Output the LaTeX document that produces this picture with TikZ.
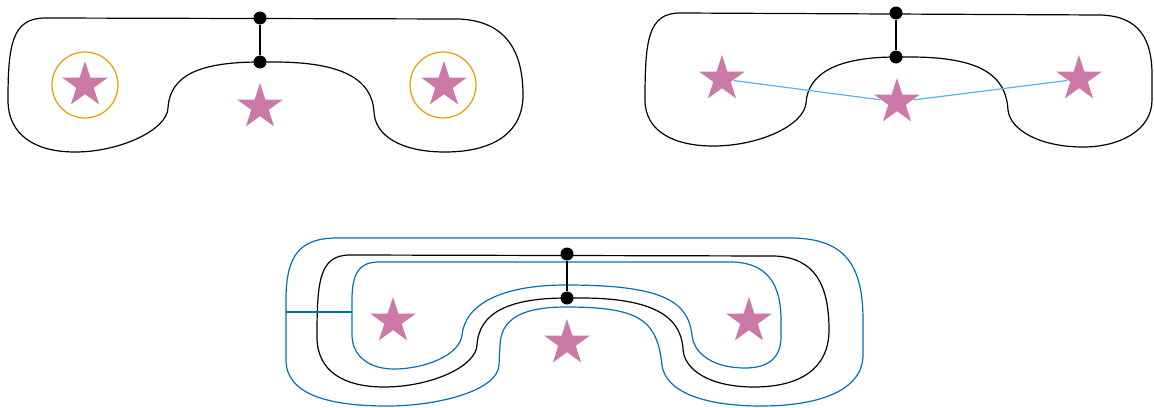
\documentclass[tikz,border=0pt]{standalone}
\usetikzlibrary{shapes.geometric}
\definecolor{starpink}{HTML}{CC79A7}
\definecolor{ringorange}{HTML}{E69F00}
\definecolor{skyblue}{HTML}{56B4E9}
\definecolor{deepblue}{HTML}{0072B2}
\begin{document}
\begin{tikzpicture}
  [x=1pt,y=-1pt,line width=1.2pt,line join=round]
  \tikzstyle{dot} = [circle,fill=black,inner sep=0pt,minimum size=13pt]
  \tikzstyle{pstar} = [star,star points=5,star point ratio=2.618,fill=starpink,inner sep=0pt,minimum size=48pt]
  \tikzstyle{ring} = [circle,draw=ringorange,inner sep=0pt,minimum size=66pt]
  \useasboundingbox (0,0) rectangle (1154,407);

  % top left
  \draw (45,18) -- (459,19)
    .. controls (505,21) and (523,50) .. (523,95)
    .. controls (523,135) and (490,152) .. (445,152)
    .. controls (400,152) and (375,135) .. (374,112)
    .. controls (372,78) and (340,62) .. (274,62)
    -- (260,62)
    .. controls (200,62) and (170,75) .. (168,108)
    .. controls (167,130) and (120,152) .. (75,152)
    .. controls (35,152) and (8,135) .. (8,100)
    .. controls (8,45) and (12,18) .. (45,18) -- cycle;
  \node[ring] (c1) at (85,85) {};
  \node[ring] (c2) at (443,85) {};
  \node[pstar] (s1) at (85,85) {};
  \node[pstar] (s2) at (260,107) {};
  \node[pstar] (s3) at (444,85) {};
  \node[dot] (d1) at (260,18) {};
  \node[dot] (d2) at (260,62) {};

  % top right
  \draw (680,13) -- (1100,15)
    .. controls (1140,16) and (1152,40) .. (1152,75)
    -- (1152,100)
    .. controls (1152,130) and (1120,147) .. (1083,147)
    .. controls (1040,147) and (1010,130) .. (1008,110)
    .. controls (1006,75) and (980,57) .. (910,57)
    -- (896,57)
    .. controls (840,57) and (808,72) .. (806,103)
    .. controls (804,125) and (760,146) .. (713,146)
    .. controls (675,146) and (645,132) .. (645,100)
    .. controls (645,40) and (648,13) .. (680,13) -- cycle;
  \node[pstar] (s4) at (722,79) {};
  \node[pstar] (s5) at (897,102) {};
  \node[pstar] (s6) at (1079,79) {};
  \node[dot] (d3) at (896,13) {};
  \node[dot] (d4) at (896,57) {};
  \draw[skyblue] (s4) -- (s5) -- (s6);

  % bottom
  \draw[deepblue] (337,238) -- (790,238)
    .. controls (845,238) and (863,265) .. (863,320)
    -- (863,355)
    .. controls (863,390) and (820,406) .. (761,406)
    .. controls (700,406) and (665,390) .. (662,365)
    .. controls (657,320) and (640,307) .. (566,307)
    .. controls (520,307) and (501,320) .. (500,345)
    -- (499,365)
    .. controls (498,390) and (440,406) .. (387,406)
    .. controls (330,406) and (286,395) .. (286,360)
    -- (286,300)
    .. controls (286,255) and (300,238) .. (337,238) -- cycle;
  \draw (350,255) -- (775,256)
    .. controls (815,258) and (829,285) .. (829,330)
    .. controls (829,370) and (798,387) .. (754,387)
    .. controls (710,387) and (684,370) .. (683,349)
    .. controls (681,315) and (650,298) .. (581,298)
    -- (567,298)
    .. controls (510,298) and (479,312) .. (477,345)
    .. controls (476,367) and (430,387) .. (384,387)
    .. controls (345,387) and (317,372) .. (317,337)
    .. controls (317,282) and (319,255) .. (350,255) -- cycle;
  \draw[deepblue] (379,262) -- (730,262)
    .. controls (768,262) and (781,285) .. (781,320)
    -- (781,337)
    .. controls (781,358) and (768,368) .. (745,368)
    .. controls (715,368) and (694,355) .. (692,335)
    .. controls (688,300) and (660,285) .. (566,285)
    .. controls (500,285) and (465,305) .. (462,335)
    .. controls (460,355) and (425,369) .. (394,369)
    .. controls (368,369) and (352,355) .. (352,335)
    -- (352,300)
    .. controls (352,272) and (360,262) .. (379,262) -- cycle;
  \coordinate (h1) at (286,312);
  \coordinate (h2) at (352,312);
  \draw[deepblue] (h1) -- (h2);
  \node[pstar] (s7) at (393,321) {};
  \node[pstar] (s8) at (567,343) {};
  \node[pstar] (s9) at (749,321) {};
  \node[dot] (d5) at (567,254) {};
  \node[dot] (d6) at (567,298) {};

\foreach \source /\dest in {d1/d2,d3/d4,d5/d6}
   \draw (\source) -- (\dest);

\end{tikzpicture}
\end{document}
